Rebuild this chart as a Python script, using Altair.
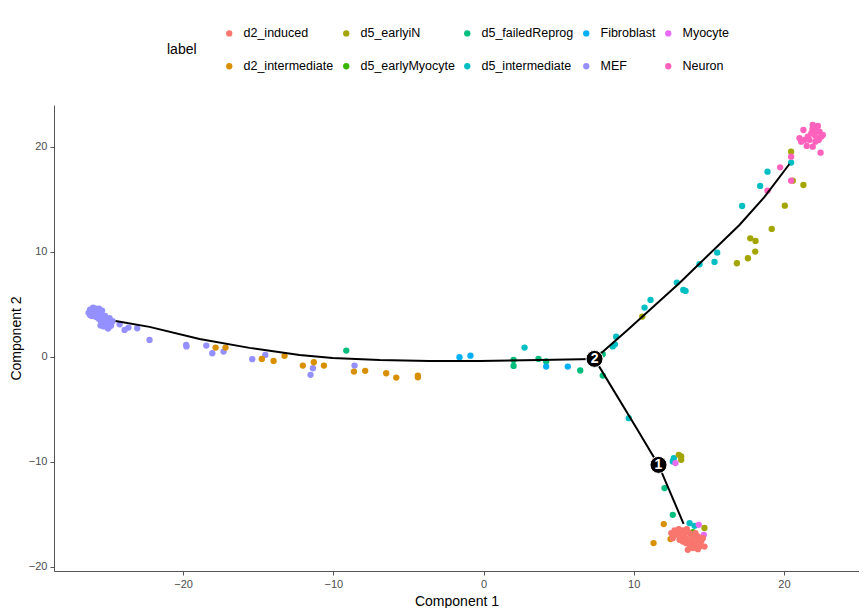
import altair as alt
import pandas as pd

# ---- cell positions per label (Component 1, Component 2) ----
MEF_x = [-26.3, -26.2, -26.0, -25.8, -26.1, -25.9, -25.7, -25.6, -25.8, -25.5, -25.4, -25.6, -25.3, -25.2,
         -25.4, -25.1, -25.0, -24.9, -24.8, -25.1, -24.9, -25.3, -25.0, -25.5, -25.7, -26.0, -25.9, -25.2,
         -24.7, -25.6, -26.2, -25.4, -25.1, -24.8, -25.3, -25.8, -26.0, -25.5, -24.9, -25.0,
         -24.23, -23.90, -23.64, -23.06, -22.24, -19.80, -19.78, -18.46, -18.06, -17.31, -15.40, -14.53,
         -11.36, -11.52, -8.59]
MEF_y = [4.2, 4.5, 4.7, 4.6, 3.9, 4.3, 4.4, 4.0, 3.8, 4.2, 3.9, 3.6, 3.7, 3.4,
         3.3, 3.6, 3.3, 3.5, 3.2, 3.0, 2.9, 3.1, 2.7, 3.5, 3.9, 4.1, 4.5, 3.9,
         3.4, 4.6, 4.0, 4.4, 3.2, 3.0, 2.9, 4.1, 4.4, 3.0, 3.7, 2.8,
         3.11, 2.57, 2.79, 2.73, 1.62, 1.14, 1.0, 1.08, 0.35, 0.51, -0.22, 0.19,
         -1.08, -1.71, -0.83]

d2_intermediate_x = [-17.84, -17.18, -14.76, -13.98, -13.25, -12.03, -11.30, -10.63, -8.63, -7.88, -6.48,
                     -5.81, -4.37, -4.37, 12.00, 11.32, 12.45]
d2_intermediate_y = [0.89, 0.89, -0.19, -0.38, 0.10, -0.83, -0.51, -0.83, -1.40, -1.33, -1.56,
                     -1.97, -1.78, -1.95, -15.93, -17.74, -17.36]

d5_failedReprog_x = [-9.14, 2.00, 2.00, 3.66, 4.17, 6.44, 7.94, 7.94, 12.05, 12.60]
d5_failedReprog_y = [0.60, -0.29, -0.86, -0.19, -0.44, -1.30, -1.78, 0.25, -12.5, -15.05]

Fibroblast_x = [-1.60, -0.87, 4.17, 5.61]
Fibroblast_y = [-0.03, 0.12, -0.92, -0.92]

d5_intermediate_x = [2.73, 8.60, 8.75, 8.83, 10.72, 11.12, 12.87, 13.30, 13.45, 14.38, 15.38, 15.56,
                     17.22, 18.42, 18.91, 20.48, 9.67, 12.67, 12.60, 13.72, 14.05, 14.20]
d5_intermediate_y = [0.89, 1.00, 1.20, 1.93, 4.70, 5.43, 7.08, 6.38, 6.29, 8.83, 9.05, 9.93,
                     14.38, 16.29, 17.65, 18.51, -5.84, -9.65, -9.97, -15.84, -16.10, -17.17]

d5_earlyiN_x = [10.57, 16.87, 17.60, 17.76, 18.11, 18.09, 19.19, 20.06, 20.48, 20.59, 21.30,
                13.16, 13.16, 13.00, 14.71]
d5_earlyiN_y = [3.84, 8.92, 9.40, 11.30, 11.05, 10.03, 12.19, 14.41, 19.55, 16.79, 16.38,
                -9.49, -9.80, -9.33, -16.30]

d5_earlyMyocyte_x = [13.94]
d5_earlyMyocyte_y = [-16.70]

Myocyte_x = [12.78, 14.33, 14.67]
Myocyte_y = [-10.12, -16.00, -16.95]

Neuron_x = [18.91, 19.75, 20.48, 20.48, 21.30, 21.04, 21.15, 21.52, 21.92, 22.10, 21.92, 22.26, 22.37,
            22.48, 21.82, 22.04, 21.70, 22.19, 22.59, 22.44, 21.59, 22.15, 21.90, 22.32, 21.37]
Neuron_y = [15.84, 18.06, 19.08, 16.79, 21.62, 20.83, 20.51, 20.10, 20.03, 20.51, 22.10, 22.00, 21.46,
            20.98, 21.30, 21.14, 20.67, 20.83, 21.14, 19.46, 20.98, 21.62, 21.70, 20.67, 20.67]

d2_induced_x = [12.50, 12.72, 13.00, 13.27, 13.49, 12.83, 13.16, 13.38, 13.60, 13.83, 14.05, 14.38, 14.71,
                13.60, 13.72, 13.89, 14.16, 14.49, 13.72, 13.94, 14.27, 13.54, 12.60, 13.05, 13.27, 13.49,
                14.27, 14.60, 14.11, 12.94]
d2_induced_y = [-16.79, -16.54, -16.41, -16.54, -16.73, -16.95, -16.95, -17.17, -17.36, -17.59, -17.90, -18.07,
                -18.07, -18.38, -16.79, -17.17, -17.59, -17.59, -17.90, -18.22, -18.32, -16.41, -17.27, -17.43,
                -17.59, -17.75, -17.11, -17.27, -16.79, -16.63]

# ---- trajectory tree ----
seg_left_x = [7.39, 3.73, -0.27, -3.60, -6.92, -10.05, -12.25, -15.58, -18.91, -22.24, -24.50]
seg_left_y = [-0.19, -0.29, -0.38, -0.38, -0.29, -0.10, 0.19, 0.86, 1.71, 2.86, 3.43]
seg_up_x = [7.39, 9.59, 13.05, 17.04, 18.71, 20.37]
seg_up_y = [-0.19, 2.57, 7.05, 12.57, 15.24, 18.38]
seg_down_x = [7.39, 10.25, 11.65, 13.32]
seg_down_y = [-0.19, -6.95, -10.29, -15.90]

branch_x = [11.65, 7.39]
branch_y = [-10.29, -0.19]
branch_lab = ["1", "2"]

# ---- legend order (row-wise fill) and ggplot hue colours ----
legend_domain = ["d2_induced", "d5_earlyiN", "d5_failedReprog", "Fibroblast", "Myocyte",
                 "d2_intermediate", "d5_earlyMyocyte", "d5_intermediate", "MEF", "Neuron"]
legend_range = ["#F8766D", "#A3A500", "#00BF7D", "#00B0F6", "#E76BF3",
                "#D89000", "#39B600", "#00BFC4", "#9590FF", "#FF62BC"]

groups = {
    "MEF": (MEF_x, MEF_y),
    "d2_intermediate": (d2_intermediate_x, d2_intermediate_y),
    "d5_failedReprog": (d5_failedReprog_x, d5_failedReprog_y),
    "Fibroblast": (Fibroblast_x, Fibroblast_y),
    "d5_intermediate": (d5_intermediate_x, d5_intermediate_y),
    "d5_earlyiN": (d5_earlyiN_x, d5_earlyiN_y),
    "d5_earlyMyocyte": (d5_earlyMyocyte_x, d5_earlyMyocyte_y),
    "Myocyte": (Myocyte_x, Myocyte_y),
    "Neuron": (Neuron_x, Neuron_y),
    "d2_induced": (d2_induced_x, d2_induced_y),
}
rows = []
for lab, (xs_, ys_) in groups.items():
    for a, b in zip(xs_, ys_):
        rows.append({"c1": a, "c2": b, "label": lab})
pts = pd.DataFrame(rows)

lrows = []
for name, (xs_, ys_) in {"left": (seg_left_x, seg_left_y), "up": (seg_up_x, seg_up_y),
                         "down": (seg_down_x, seg_down_y)}.items():
    for i, (a, b) in enumerate(zip(xs_, ys_)):
        lrows.append({"c1": a, "c2": b, "seg": name, "o": i})
lines = pd.DataFrame(lrows)

bp = pd.DataFrame({"c1": branch_x, "c2": branch_y, "t": branch_lab})

FONT = "Liberation Sans"
xs = alt.Scale(domain=[-28.6, 25.0], nice=False, zero=False)
ys = alt.Scale(domain=[-20.4, 24.0], nice=False, zero=False)

xax = alt.Axis(title="Component 1", values=[-20, -10, 0, 10, 20], grid=False)
yax = alt.Axis(title="Component 2", values=[-20, -10, 0, 10, 20], grid=False)

traj = alt.Chart(lines).mark_line(color="black", strokeWidth=2).encode(
    x=alt.X("c1:Q", scale=xs, axis=xax),
    y=alt.Y("c2:Q", scale=ys, axis=yax),
    detail="seg:N",
    order="o:Q",
)

points = alt.Chart(pts).mark_circle(size=40, opacity=1).encode(
    x=alt.X("c1:Q", scale=xs),
    y=alt.Y("c2:Q", scale=ys),
    color=alt.Color("label:N", scale=alt.Scale(domain=legend_domain, range=legend_range),
                    legend=alt.Legend(title="label", orient="none", legendX=113, legendY=-78,
                                      columns=5, direction="horizontal", titleOrient="left",
                                      titleAnchor="middle", titleBaseline="middle",
                                      titleFontSize=14, titleFontWeight="normal", titleColor="black",
                                      titleFont=FONT, titlePadding=26,
                                      labelFont=FONT, labelFontSize=12.5, labelColor="black",
                                      symbolSize=40, symbolType="circle", symbolStrokeWidth=0,
                                      rowPadding=20, columnPadding=6, labelOffset=8)),
)

bcirc = alt.Chart(bp).mark_circle(size=290, color="black", opacity=1, stroke="white",
                                  strokeWidth=1).encode(
    x=alt.X("c1:Q", scale=xs), y=alt.Y("c2:Q", scale=ys))
btext = alt.Chart(bp).mark_text(color="white", fontSize=14, fontWeight="bold", font=FONT,
                                baseline="middle", align="center").encode(
    x=alt.X("c1:Q", scale=xs), y=alt.Y("c2:Q", scale=ys), text="t:N")

chart = alt.layer(points, traj, bcirc, btext).properties(
    width=805, height=466,
    autosize=alt.AutoSizeParams(type="none"),
    padding={"left": 46, "top": 97, "right": 0, "bottom": 37},
).configure_view(stroke=None).configure_axis(
    domainColor="#555555", domainWidth=1, tickColor="#555555", tickSize=4, tickWidth=1,
    labelFont=FONT, labelFontSize=11, labelColor="#4D4D4D", labelPadding=3,
    titleFont=FONT, titleFontSize=14, titleFontWeight="normal", titleColor="black",
).configure_axisX(titlePadding=5).configure_axisY(titlePadding=5)

chart.save("out.html", embed_options={"renderer": "svg", "actions": False})
